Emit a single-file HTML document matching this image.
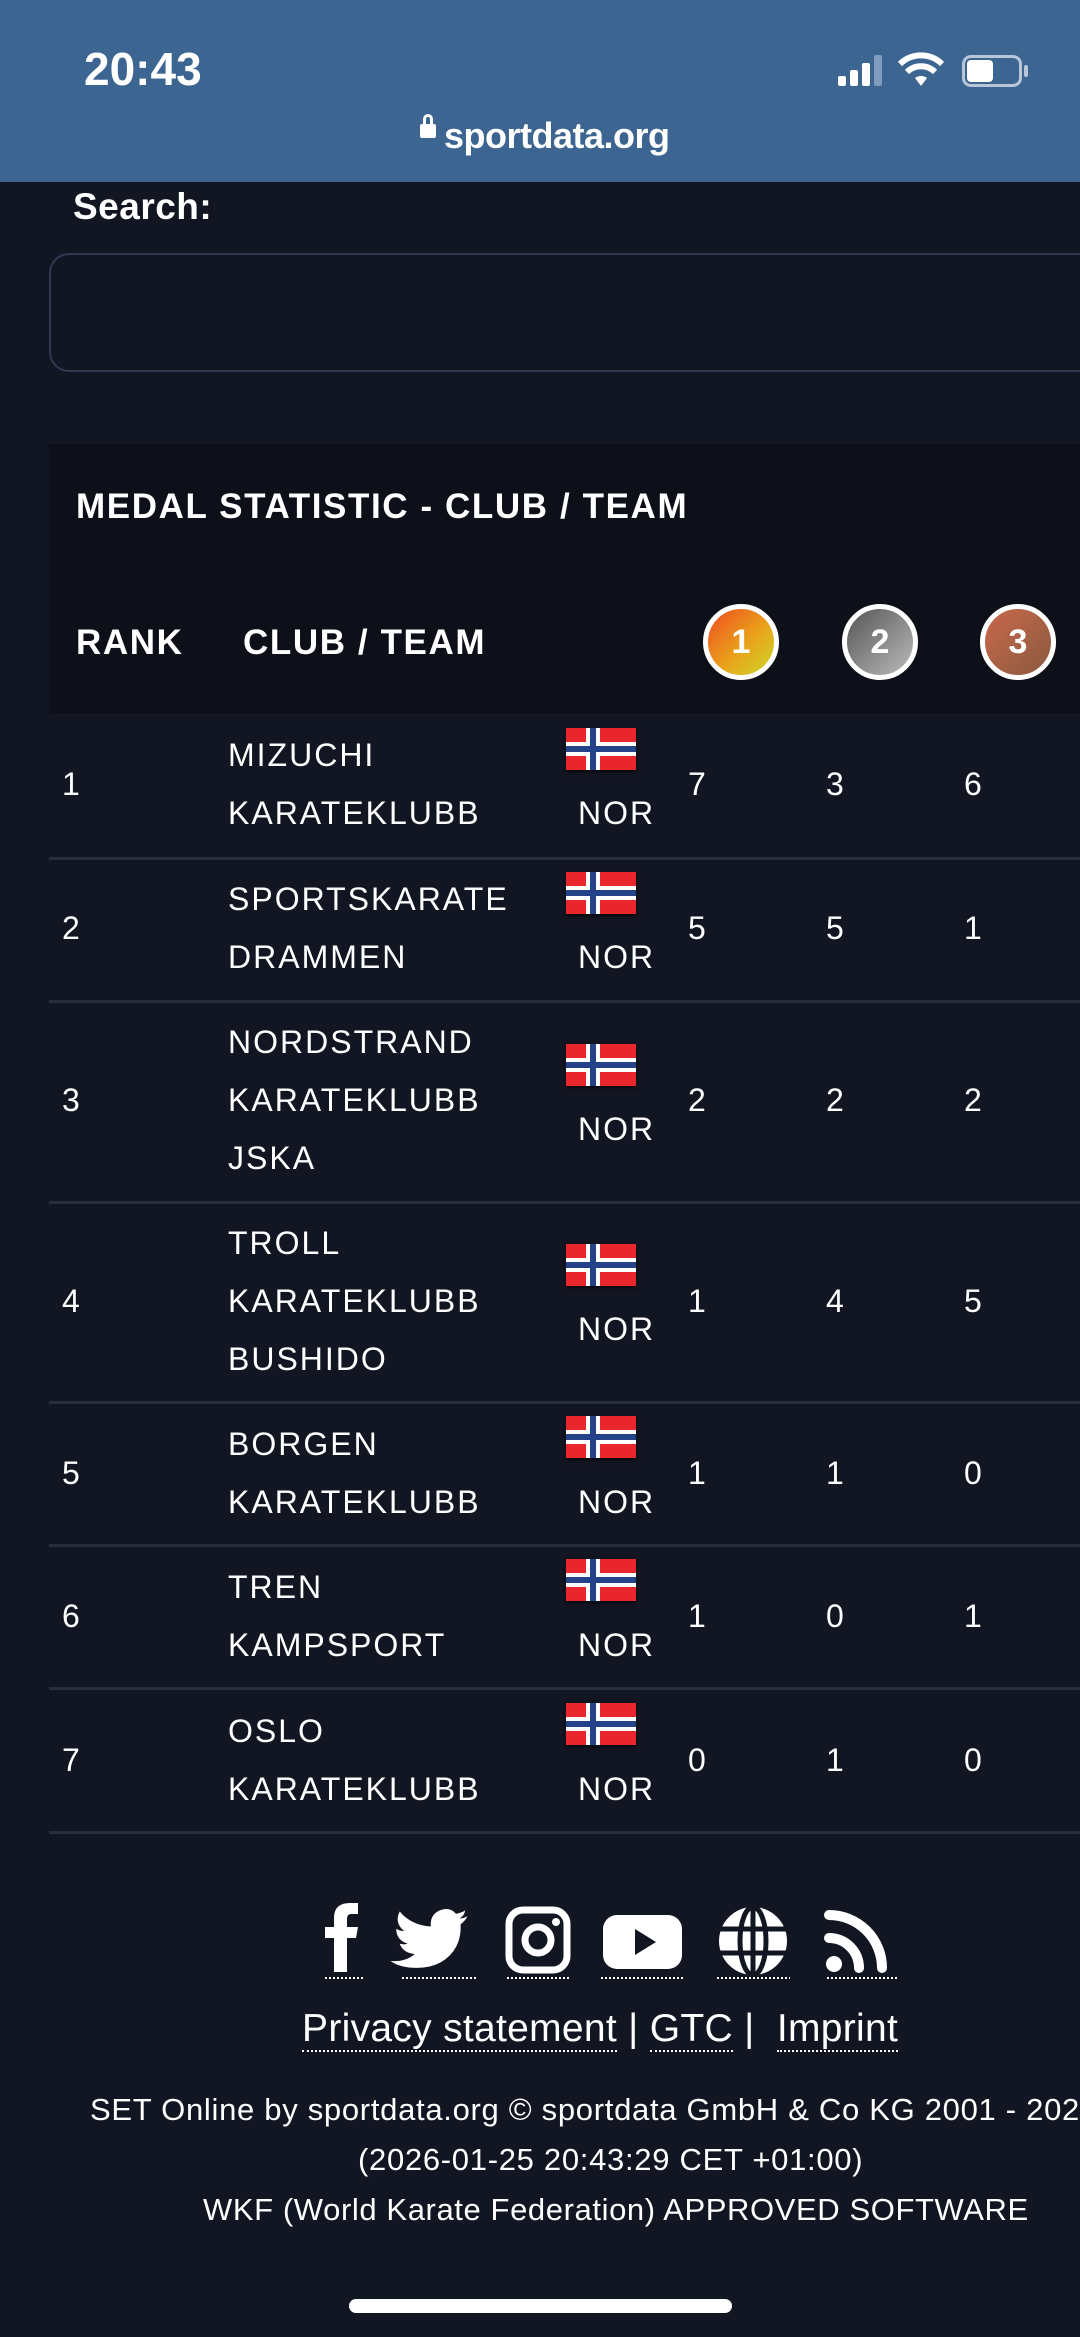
<!DOCTYPE html>
<html><head><meta charset="utf-8">
<style>
*{margin:0;padding:0;box-sizing:border-box}
html,body{width:1080px;height:2337px;overflow:hidden;background:#121522;font-family:"Liberation Sans",sans-serif;color:#fff}
.a{position:absolute;white-space:nowrap}
.bar{position:absolute;left:0;top:0;width:1080px;height:182px;background:#3c6592}
.t{font-size:32px;letter-spacing:2px;line-height:58px}
.flag{position:absolute;width:70px;height:42px;background:#e8262b;box-shadow:0 2px 3px rgba(0,0,0,.6)}
.flag:before{content:"";position:absolute;left:20px;top:0;width:14px;height:42px;background:#fff}
.flag:after{content:"";position:absolute;left:0;top:14px;width:70px;height:14px;background:#fff}
.flag i{position:absolute;left:24px;top:0;width:6px;height:42px;background:#24428a;z-index:2}
.flag b{position:absolute;left:0;top:18px;width:70px;height:6px;background:#24428a;z-index:2}
.sep{position:absolute;left:49px;width:1031px;height:3px;background:#2a2e3b}
.med{position:absolute;width:76px;height:76px;border-radius:50%;border:5px solid #fff;font:bold 34px "Liberation Sans",sans-serif;text-align:center;line-height:66px;color:#fff}
.h{font-size:35px;font-weight:bold;letter-spacing:1.6px}
</style></head><body>
<div class="bar"></div>
<div class="a" style="left:84px;top:42px;font-size:46px;font-weight:bold">20:43</div>
<div class="a" style="left:838px;top:76px;width:8px;height:10px;background:#fff;border-radius:2px"></div>
<div class="a" style="left:850px;top:70px;width:8px;height:16px;background:#fff;border-radius:2px"></div>
<div class="a" style="left:862px;top:63px;width:8px;height:23px;background:#fff;border-radius:2px"></div>
<div class="a" style="left:874px;top:55px;width:8px;height:31px;background:#7f9cbd;border-radius:2px"></div>
<svg class="a" style="left:897px;top:52px" width="48" height="36" viewBox="0 0 48 36"><path d="M24 34 L30 26 A10 10 0 0 0 18 26 Z" fill="#fff"/><path d="M10 20 A20 20 0 0 1 38 20" stroke="#fff" stroke-width="6" fill="none"/><path d="M3 12 A30 30 0 0 1 45 12" stroke="#fff" stroke-width="6" fill="none"/></svg>
<div class="a" style="left:962px;top:55px;width:60px;height:32px;border:3px solid #b8c6d8;border-radius:9px"></div>
<div class="a" style="left:967px;top:60px;width:26px;height:22px;background:#fff;border-radius:4px"></div>
<div class="a" style="left:1024px;top:65px;width:4px;height:12px;background:#b8c6d8;border-radius:2px"></div>
<div class="a" style="left:420px;top:124px;width:16px;height:14px;background:#fff;border-radius:2px"></div>
<div class="a" style="left:423px;top:114px;width:10px;height:14px;border:3px solid #fff;border-bottom:none;border-radius:5px 5px 0 0"></div>
<div class="a" style="left:444px;top:115px;font-size:36px;font-weight:bold;letter-spacing:-0.5px">sportdata.org</div>

<div class="a" style="left:73px;top:186px;font-size:37px;font-weight:bold;letter-spacing:0.5px">Search:</div>
<div class="a" style="left:49px;top:253px;width:1100px;height:119px;border:2px solid #343752;border-radius:20px"></div>

<div class="a" style="left:49px;top:444px;width:1031px;height:269px;background:#0e1019"></div>
<div class="a h" style="left:76px;top:487px">MEDAL STATISTIC - CLUB / TEAM</div>
<div class="a h" style="left:76px;top:623px">RANK</div>
<div class="a h" style="left:243px;top:623px">CLUB / TEAM</div>
<div class="med" style="left:703px;top:604px;background:linear-gradient(135deg,#f04a22,#e9a21a 55%,#cfd82a)">1</div>
<div class="med" style="left:842px;top:604px;background:linear-gradient(135deg,#555,#bbb)">2</div>
<div class="med" style="left:980px;top:604px;background:linear-gradient(135deg,#c9684a,#8a5a40)">3</div>

<div class="a t" style="left:62px;top:755px">1</div>
<div class="a t" style="left:228px;top:726px">MIZUCHI<br>KARATEKLUBB</div>
<div class="flag" style="left:566px;top:728px"><i></i><b></b></div>
<div class="a t" style="left:578px;top:784px">NOR</div>
<div class="a t" style="left:688px;top:755px">7</div><div class="a t" style="left:826px;top:755px">3</div><div class="a t" style="left:964px;top:755px">6</div>
<div class="sep" style="top:857px"></div>

<div class="a t" style="left:62px;top:899px">2</div>
<div class="a t" style="left:228px;top:870px">SPORTSKARATE<br>DRAMMEN</div>
<div class="flag" style="left:566px;top:872px"><i></i><b></b></div>
<div class="a t" style="left:578px;top:928px">NOR</div>
<div class="a t" style="left:688px;top:899px">5</div><div class="a t" style="left:826px;top:899px">5</div><div class="a t" style="left:964px;top:899px">1</div>
<div class="sep" style="top:1000px"></div>

<div class="a t" style="left:62px;top:1071px">3</div>
<div class="a t" style="left:228px;top:1013px">NORDSTRAND<br>KARATEKLUBB<br>JSKA</div>
<div class="flag" style="left:566px;top:1044px"><i></i><b></b></div>
<div class="a t" style="left:578px;top:1100px">NOR</div>
<div class="a t" style="left:688px;top:1071px">2</div><div class="a t" style="left:826px;top:1071px">2</div><div class="a t" style="left:964px;top:1071px">2</div>
<div class="sep" style="top:1201px"></div>

<div class="a t" style="left:62px;top:1272px">4</div>
<div class="a t" style="left:228px;top:1214px">TROLL<br>KARATEKLUBB<br>BUSHIDO</div>
<div class="flag" style="left:566px;top:1244px"><i></i><b></b></div>
<div class="a t" style="left:578px;top:1300px">NOR</div>
<div class="a t" style="left:688px;top:1272px">1</div><div class="a t" style="left:826px;top:1272px">4</div><div class="a t" style="left:964px;top:1272px">5</div>
<div class="sep" style="top:1401px"></div>

<div class="a t" style="left:62px;top:1444px">5</div>
<div class="a t" style="left:228px;top:1415px">BORGEN<br>KARATEKLUBB</div>
<div class="flag" style="left:566px;top:1416px"><i></i><b></b></div>
<div class="a t" style="left:578px;top:1473px">NOR</div>
<div class="a t" style="left:688px;top:1444px">1</div><div class="a t" style="left:826px;top:1444px">1</div><div class="a t" style="left:964px;top:1444px">0</div>
<div class="sep" style="top:1544px"></div>

<div class="a t" style="left:62px;top:1587px">6</div>
<div class="a t" style="left:228px;top:1558px">TREN<br>KAMPSPORT</div>
<div class="flag" style="left:566px;top:1559px"><i></i><b></b></div>
<div class="a t" style="left:578px;top:1616px">NOR</div>
<div class="a t" style="left:688px;top:1587px">1</div><div class="a t" style="left:826px;top:1587px">0</div><div class="a t" style="left:964px;top:1587px">1</div>
<div class="sep" style="top:1687px"></div>

<div class="a t" style="left:62px;top:1731px">7</div>
<div class="a t" style="left:228px;top:1702px">OSLO<br>KARATEKLUBB</div>
<div class="flag" style="left:566px;top:1703px"><i></i><b></b></div>
<div class="a t" style="left:578px;top:1760px">NOR</div>
<div class="a t" style="left:688px;top:1731px">0</div><div class="a t" style="left:826px;top:1731px">1</div><div class="a t" style="left:964px;top:1731px">0</div>
<div class="sep" style="top:1831px"></div>

<svg class="a" style="left:320px;top:1900px" width="590" height="80" viewBox="0 0 590 80">
<g fill="#fff">
<path d="M14 72 V38 H5 V27 H14 V18 Q14 3 30 3 H38 V14 H31 Q27 14 27 19 V27 H38 L36 38 H27 V72Z"/>
<g transform="translate(82,-8) scale(1.15)">
<path d="M85 66 Q70 66 62 60 Q75 61 83 54 Q73 53 70 45 Q74 46 77 45 Q67 42 67 32 Q70 34 74 34 Q65 27 70 17 Q80 29 97 30 Q96 18 108 15 Q115 14 119 19 Q124 18 127 16 Q126 21 122 23 Q126 23 129 21 Q127 25 123 28 Q124 50 106 61 Q97 66 85 66Z" transform="translate(-72,0)"/>
</g>
<rect x="189" y="10" width="58" height="60" rx="14" fill="none" stroke="#fff" stroke-width="7"/>
<circle cx="218" cy="40" r="13" fill="none" stroke="#fff" stroke-width="7"/><circle cx="236" cy="22" r="4"/>
<rect x="283" y="15" width="79" height="54" rx="14"/>
</g>
<path d="M315 29 L336 42 L315 55Z" fill="#121522"/>
<circle cx="433" cy="41" r="34" fill="#fff"/>
<g stroke="#121522" stroke-width="5" fill="none"><ellipse cx="433" cy="41" rx="13" ry="34"/><line x1="433" y1="7" x2="433" y2="75"/><line x1="399" y1="29" x2="467" y2="29"/><line x1="399" y1="53" x2="467" y2="53"/></g>
<g fill="none" stroke="#fff" stroke-width="10" stroke-linecap="round"><path d="M509 38 A30 30 0 0 1 539 68"/><path d="M509 15 A53 53 0 0 1 562 68"/></g>
<circle cx="514" cy="64" r="8" fill="#fff"/>
<g stroke="#fff" stroke-width="2" stroke-dasharray="2 2"><line x1="5" y1="78" x2="45" y2="78"/><line x1="82" y1="78" x2="156" y2="78"/><line x1="187" y1="78" x2="250" y2="78"/><line x1="281" y1="78" x2="363" y2="78"/><line x1="397" y1="78" x2="470" y2="78"/><line x1="507" y1="78" x2="578" y2="78"/></g>
</svg>
<div class="a" style="left:302px;top:2007px;font-size:39px;letter-spacing:0.3px">
<span style="border-bottom:2px dotted #fff">Privacy statement</span> | <span style="border-bottom:2px dotted #fff">GTC</span> |&nbsp; <span style="border-bottom:2px dotted #fff">Imprint</span></div>
<div class="a" style="left:90px;top:2092px;font-size:31px;letter-spacing:0.7px">SET Online by sportdata.org © sportdata GmbH &amp; Co KG 2001 - 2026</div>
<div class="a" style="left:358px;top:2142px;font-size:31px;letter-spacing:0.7px">(2026-01-25 20:43:29 CET +01:00)</div>
<div class="a" style="left:203px;top:2192px;font-size:31px;letter-spacing:0.6px">WKF (World Karate Federation) APPROVED SOFTWARE</div>
<div class="a" style="left:349px;top:2299px;width:383px;height:14px;background:#fff;border-radius:7px"></div>
</body></html>
